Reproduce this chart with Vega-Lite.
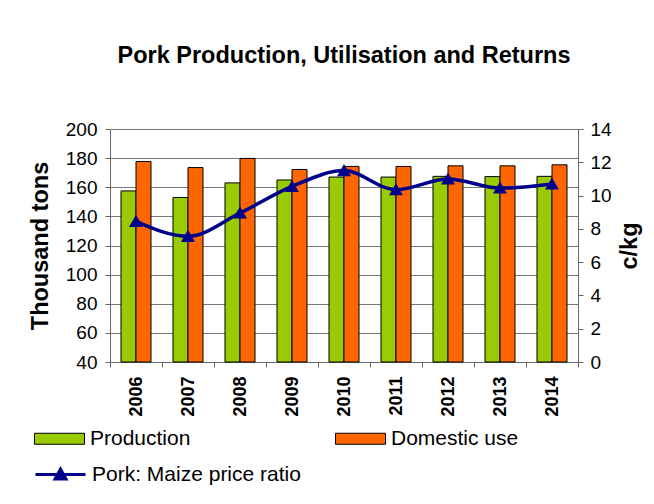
{
  "$schema": "https://vega.github.io/schema/vega-lite/v6.json",
  "width": 468,
  "height": 233,
  "autosize": {"type": "none"},
  "padding": {"left": 110, "top": 129, "right": 76, "bottom": 142},
  "background": "white",
  "config": {
    "font": "Liberation Sans",
    "view": {"stroke": null},
    "axis": {"labelFont": "Liberation Sans", "titleFont": "Liberation Sans", "labelColor": "black", "titleColor": "black", "domainColor": "#666666", "tickColor": "#666666"}
  },
  "title": {
    "text": "Pork Production, Utilisation and Returns",
    "fontSize": 23.5,
    "fontWeight": "bold",
    "font": "Liberation Sans",
    "anchor": "middle",
    "frame": "group",
    "offset": 53,
    "color": "black"
  },
  "datasets": {
    "bars": [
      {"year": "2006", "series": "Production", "value": 157.5},
      {"year": "2006", "series": "Domestic use", "value": 177.7},
      {"year": "2007", "series": "Production", "value": 153},
      {"year": "2007", "series": "Domestic use", "value": 173.5},
      {"year": "2008", "series": "Production", "value": 163},
      {"year": "2008", "series": "Domestic use", "value": 179.8},
      {"year": "2009", "series": "Production", "value": 165},
      {"year": "2009", "series": "Domestic use", "value": 172.2},
      {"year": "2010", "series": "Production", "value": 167},
      {"year": "2010", "series": "Domestic use", "value": 174.3},
      {"year": "2011", "series": "Production", "value": 167},
      {"year": "2011", "series": "Domestic use", "value": 174.3},
      {"year": "2012", "series": "Production", "value": 167.5},
      {"year": "2012", "series": "Domestic use", "value": 174.7},
      {"year": "2013", "series": "Production", "value": 167.3},
      {"year": "2013", "series": "Domestic use", "value": 174.7},
      {"year": "2014", "series": "Production", "value": 167.5},
      {"year": "2014", "series": "Domestic use", "value": 175.4}
    ],
    "ratio": [
      {"year": "2006", "series": "Pork: Maize price ratio", "ratio": 8.45},
      {"year": "2007", "series": "Pork: Maize price ratio", "ratio": 7.55},
      {"year": "2008", "series": "Pork: Maize price ratio", "ratio": 8.95},
      {"year": "2009", "series": "Pork: Maize price ratio", "ratio": 10.55},
      {"year": "2010", "series": "Pork: Maize price ratio", "ratio": 11.5},
      {"year": "2011", "series": "Pork: Maize price ratio", "ratio": 10.35},
      {"year": "2012", "series": "Pork: Maize price ratio", "ratio": 11.0},
      {"year": "2013", "series": "Pork: Maize price ratio", "ratio": 10.45},
      {"year": "2014", "series": "Pork: Maize price ratio", "ratio": 10.7}
    ]
  },
  "encoding": {
    "x": {
      "field": "year",
      "type": "nominal",
      "scale": {"paddingInner": 0, "paddingOuter": 0},
      "axis": {
        "title": null,
        "labelAngle": -90,
        "labelFontSize": 18,
        "labelFontWeight": "bold",
        "labelAlign": "right",
        "labelBaseline": "middle",
        "labelPadding": 9,
        "tickBand": "extent",
        "tickSize": 5,
        "domainColor": "#666666"
      }
    }
  },
  "layer": [
    {
      "data": {"name": "bars"},
      "mark": {"type": "bar", "stroke": "black", "strokeWidth": 1},
      "encoding": {
        "xOffset": {"field": "series", "type": "nominal", "sort": ["Production", "Domestic use"], "scale": {"paddingInner": 0, "paddingOuter": 0.733}},
        "y": {
          "field": "value",
          "type": "quantitative",
          "scale": {"domain": [40, 200], "zero": false, "nice": false},
          "axis": {
            "title": "Thousand tons",
            "titleFontSize": 23.5,
            "titleFontWeight": "bold",
            "titlePadding": 13,
            "labelFontSize": 19,
            "labelPadding": 8,
            "values": [40, 60, 80, 100, 120, 140, 160, 180, 200],
            "grid": true,
            "gridColor": "#777777",
            "gridWidth": 1,
            "tickSize": 5
          }
        },
        "y2": {"datum": 40},
        "fill": {
          "field": "series",
          "type": "nominal",
          "sort": ["Production", "Domestic use"],
          "scale": {"domain": ["Production", "Domestic use"], "range": ["#99CC00", "#FF6600"]},
          "legend": {
            "title": null,
            "orient": "none",
            "legendX": -76,
            "legendY": 284,
            "direction": "horizontal",
            "columns": 2,
            "columnPadding": 142,
            "padding": 0,
            "symbolType": "M-1,-0.22H1V0.22H-1Z",
            "symbolSize": 2500,
            "symbolStrokeColor": "black",
            "symbolStrokeWidth": 1,
            "labelFontSize": 21,
            "labelFont": "Liberation Sans",
            "labelColor": "black",
            "labelOffset": 5,
            "labelLimit": 300
          }
        }
      }
    },
    {
      "data": {"name": "ratio"},
      "mark": {
        "type": "line",
        "interpolate": "monotone",
        "strokeWidth": 3.5,
        "point": {"shape": "triangle-up", "filled": true, "size": 110, "color": "#00008B"}
      },
      "encoding": {
        "y": {
          "field": "ratio",
          "type": "quantitative",
          "scale": {"domain": [0, 14], "nice": false},
          "axis": {
            "orient": "right",
            "title": "c/kg",
            "titleAngle": 270,
            "titleFontSize": 23.5,
            "titleFontWeight": "bold",
            "titlePadding": 30,
            "labelFontSize": 19,
            "labelPadding": 7,
            "values": [0, 2, 4, 6, 8, 10, 12, 14],
            "grid": false,
            "tickSize": 5
          }
        },
        "stroke": {
          "field": "series",
          "type": "nominal",
          "scale": {"range": ["#00008B"]},
          "legend": {
            "title": null,
            "orient": "none",
            "legendX": -76,
            "legendY": 319,
            "padding": 0,
            "symbolType": "M-1,0H1M-0.22,0.18L0,-0.22L0.22,0.18Z",
            "symbolSize": 2500,
            "symbolFillColor": "#00008B",
            "symbolStrokeColor": "#00008B",
            "symbolStrokeWidth": 3,
            "labelFontSize": 21,
            "labelFont": "Liberation Sans",
            "labelColor": "black",
            "labelOffset": 5,
            "labelLimit": 300
          }
        }
      }
    }
  ],
  "resolve": {"scale": {"y": "independent", "fill": "independent", "stroke": "independent"}}
}
